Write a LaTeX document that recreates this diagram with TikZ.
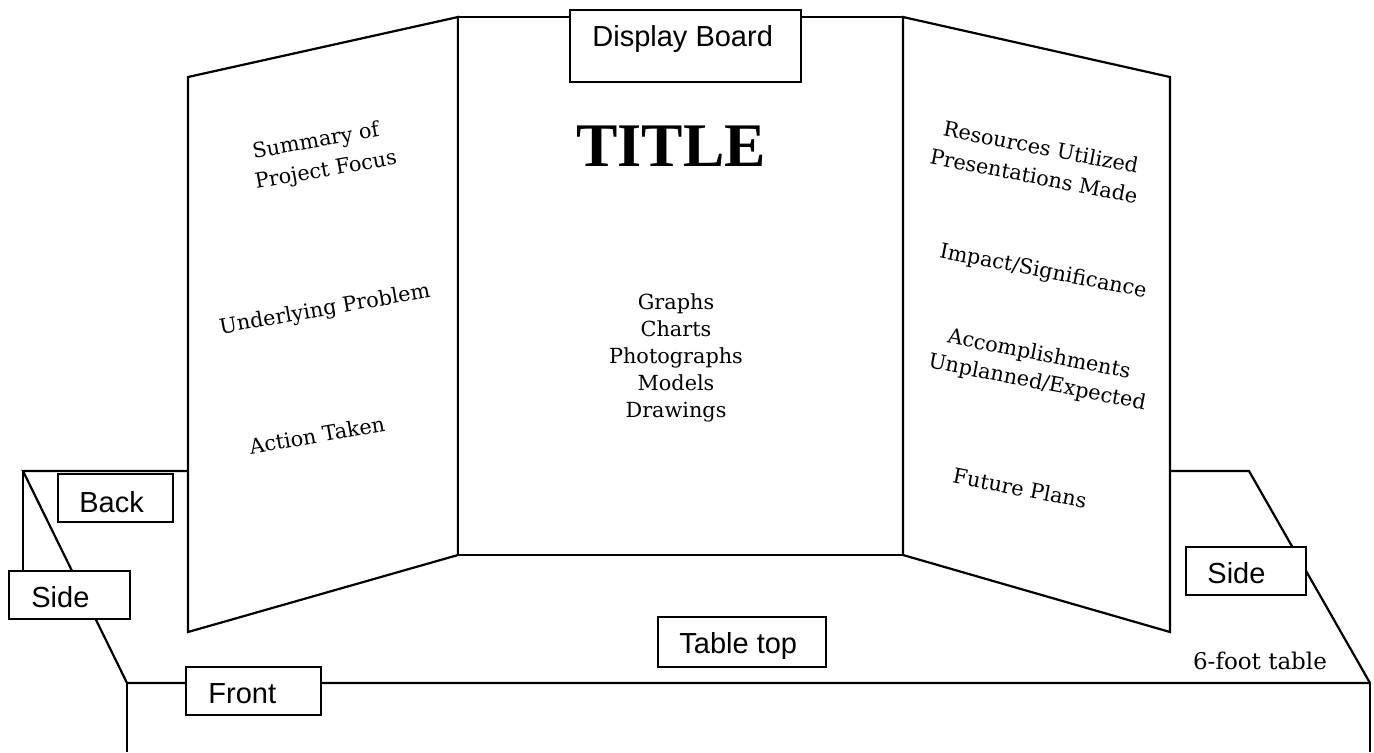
\documentclass[tikz,border=0pt]{standalone}
\usepackage{fontspec}
\setmainfont{DejaVu Serif}
\newfontfamily\arialf{Liberation Sans}
\newfontfamily\timesf{Liberation Serif}
\tikzset{
  edge/.style={line width=1.1pt, line join=miter},
  thin/.style={line width=0.8pt},
  boxr/.style={line width=0.85pt, fill=white},
  lab/.style={font=\arialf\fontsize{14.5}{17}\selectfont, anchor=base west, inner sep=0pt},
  pan/.style={font=\fontsize{10.4}{13.5}\selectfont, align=center, inner sep=0pt},
}
\begin{document}
\begin{tikzpicture}[x=0.5pt,y=-0.5pt]
\useasboundingbox (0,0) rectangle (1374,752);
% table
\draw[edge] (188,471) -- (23,471) -- (127,683) -- (1370,683);
\draw[thin] (23,471) -- (23,571);
\draw[edge] (127,683) -- (127,752);
\draw[edge] (1370,683) -- (1370,752);
\draw[edge] (1170,471) -- (1249,471) -- (1370,683);
% panels
\draw[edge, fill=white] (188,77) -- (458,17) -- (458,555) -- (188,632) -- cycle;
\draw[edge, fill=white] (458,17) -- (903,17) -- (903,555) -- (458,555) -- cycle;
\draw[edge, fill=white] (903,17) -- (1170,77) -- (1170,632) -- (903,555) -- cycle;
% label boxes
\draw[boxr] (570,10) rectangle (801,82);
\node[lab] (db) at (592,46) {Display Board};
\draw[boxr] (58,474) rectangle (173,522);
\node[lab] (back) at (79,512) {Back};
\draw[boxr] (9,571) rectangle (130,619);
\node[lab] (sidel) at (31,607) {Side};
\draw[boxr] (186,667) rectangle (321,715);
\node[lab] (front) at (208,703) {Front};
\draw[boxr] (1186,547) rectangle (1306,595);
\node[lab] (sider) at (1207,583) {Side};
\draw[boxr] (658,617) rectangle (826,667);
\node[lab] (tt) at (679,653) {Table top};
% texts
\node[font=\timesf\bfseries\fontsize{31}{34}\selectfont, inner sep=0pt] (title) at (671,146) {TITLE};
\node[pan] (list) at (676,358) {Graphs\\Charts\\Photographs\\Models\\Drawings};
\node[pan, rotate=10] (sum1) at (316,142) {Summary of};
\node[pan, rotate=10] (sum2) at (326,171) {Project Focus};
\node[pan, rotate=10] (und) at (325,310) {Underlying Problem};
\node[pan, rotate=10] (act) at (317,435) {Action Taken};
\node[pan, rotate=-11] (res1) at (1041,147) {Resources Utilized};
\node[pan, rotate=-11] (res2) at (1034,176) {Presentations Made};
\node[pan, rotate=-11] (imp) at (1043,272) {Impact/Significance};
\node[pan, rotate=-11] (acc1) at (1039,355) {Accomplishments};
\node[pan, rotate=-11] (acc2) at (1037,383) {Unplanned/Expected};
\node[pan, rotate=-11] (fut) at (1020,488) {Future Plans};
\node[font=\fontsize{11.5}{14}\selectfont, inner sep=0pt] (six) at (1260,661) {6-foot table};
\end{tikzpicture}
\end{document}
